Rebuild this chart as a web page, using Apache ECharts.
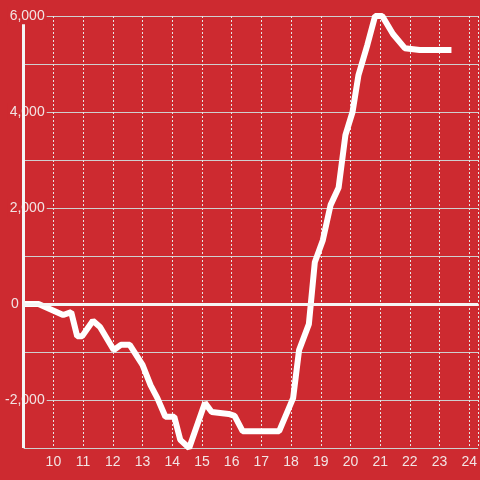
<!DOCTYPE html>
<html>
<head>
<meta charset="utf-8">
<script src="https://cdn.jsdelivr.net/npm/echarts@6/dist/echarts.min.js"></script>
<style>
  html, body { margin: 0; padding: 0; background: #cd2a30; }
  #chart { width: 480px; height: 480px; }
</style>
</head>
<body>
<div id="chart"></div>
<script>
// hour of day (x) and running value (y)
const hours = [9.0, 9.5, 10.33, 10.6, 10.8, 10.97, 11.33, 11.57, 12.03, 12.27, 12.57, 13.0,
  13.27, 13.5, 13.77, 14.07, 14.27, 14.57, 15.1, 15.33, 15.9, 16.1, 16.37, 17.6,
  18.07, 18.27, 18.6, 18.8, 19.07, 19.33, 19.6, 19.83, 20.07, 20.27, 20.57, 20.83,
  21.07, 21.43, 21.83, 22.33, 23.4];
const values = [0, 0, -230, -170, -670, -670, -350, -480, -960, -850, -850, -1270,
  -1690, -1960, -2350, -2350, -2830, -3000, -2060, -2250, -2290, -2330, -2650, -2650,
  -1960, -960, -420, 870, 1330, 2060, 2420, 3520, 4000, 4770, 5400, 6000,
  6000, 5625, 5330, 5290, 5290];
const yLabelValues = [-2000, 0, 2000, 4000, 6000];

const bg = '#cd2a30';
const points = hours.map((h, i) => [h, values[i]]);

const chart = echarts.init(document.getElementById('chart'));
chart.setOption({
  backgroundColor: bg,
  animation: false,
  textStyle: { fontFamily: 'Liberation Sans, Arial, sans-serif' },
  grid: { left: 20, right: 0, top: 16, bottom: 32 },
  xAxis: {
    type: 'value',
    min: 9,
    max: 24.3,
    interval: 1,
    axisLine: { show: false },
    axisTick: { show: false },
    axisLabel: {
      color: '#f2e4e4',
      fontSize: 14,
      margin: 7,
      showMinLabel: false,
      showMaxLabel: false
    },
    splitLine: { lineStyle: { color: '#e6e6e6', type: [2, 2], width: 1 } }
  },
  yAxis: {
    type: 'value',
    min: -3000,
    max: 6000,
    interval: 1000,
    axisLine: { show: false },
    axisTick: { show: false },
    axisLabel: {
      margin: -23,
      formatter: function (v) {
        if (v === 0) return '{z|0}';
        if (yLabelValues.indexOf(v) < 0) return '';
        return '{a|' + v.toLocaleString('en-US') + '}';
      },
      rich: {
        a: { color: '#f2e4e4', fontSize: 14, backgroundColor: bg, padding: [2, 2, 2, 2] },
        z: { color: '#f2e4e4', fontSize: 14, padding: [0, 28, 0, 0] }
      }
    },
    splitLine: { lineStyle: { color: '#cfcfcf', width: 1 } }
  },
  series: [{
    type: 'line',
    data: points,
    showSymbol: false,
    lineStyle: { color: '#ffffff', width: 6 },
    markLine: {
      silent: true,
      symbol: 'none',
      label: { show: false },
      lineStyle: { color: '#f5f5f5', width: 3, type: 'solid' },
      data: [
        { yAxis: 0 },
        [{ coord: [9, 5830] }, { coord: [9, -3000] }]
      ]
    }
  }]
});
</script>
</body>
</html>
